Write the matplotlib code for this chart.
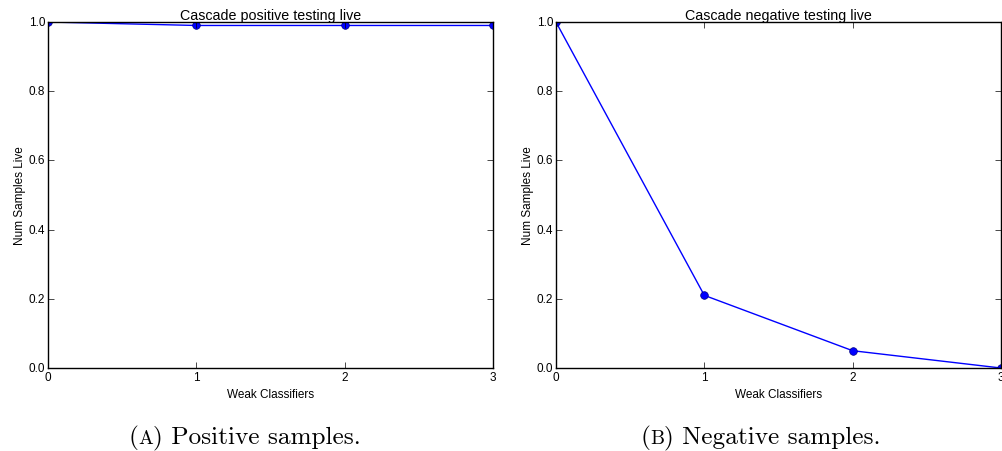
import numpy as np
import matplotlib.pyplot as plt

plt.style.use('classic')
plt.rcParams['font.family'] = ['Liberation Sans', 'DejaVu Sans']

# values
weak_classifiers = [0, 1, 2, 3]
positive_live = [1.0, 0.99, 0.99, 0.99]
negative_live = [1.0, 0.21, 0.05, 0.0]

titles = ['Cascade positive testing live', 'Cascade negative testing live']
captions = [('A', ' Positive samples.'), ('B', ' Negative samples.')]

fig = plt.figure(figsize=(10.03, 4.52), dpi=100, facecolor='white')
ax1 = fig.add_axes([0.0479, 0.1836, 0.4436, 0.7655])
ax2 = fig.add_axes([0.5543, 0.1836, 0.4437, 0.7655])

for ax, vals, title in zip([ax1, ax2], [positive_live, negative_live], titles):
    ax.plot(weak_classifiers, vals, 'b-o', markersize=5.5, markeredgecolor='navy')
    ax.set_xlim(0, 3)
    ax.set_ylim(0, 1)
    ax.set_xticks([0, 1, 2, 3])
    ax.set_yticks([0.0, 0.2, 0.4, 0.6, 0.8, 1.0])
    ax.set_title(title, fontsize=10.3, pad=2)
    ax.set_xlabel('Weak Classifiers', fontsize=8.5, labelpad=4)
    ax.set_ylabel('Num Samples Live', fontsize=8.5, labelpad=2)
    ax.tick_params(labelsize=8.5, pad=2)
    ax.set_facecolor('white')

# subfigure captions, serif with small-caps letter
cap_size = 18.2
base_y = 0.018
for cx, (letter, rest) in zip([0.246, 0.760], captions):
    t = fig.text(cx, base_y, '(' + letter + ')' + rest, family='cmr10', fontsize=cap_size,
                 ha='center', va='baseline', alpha=0)
    fig.canvas.draw()
    bb = t.get_window_extent()
    x0 = bb.x0 / fig.bbox.width
    a = fig.text(x0, base_y, '(', family='cmr10', fontsize=cap_size, va='baseline')
    fig.canvas.draw()
    x = a.get_window_extent().x1 / fig.bbox.width
    b = fig.text(x, base_y, letter, family='cmr10', fontsize=cap_size * 0.78, va='baseline')
    fig.canvas.draw()
    x = b.get_window_extent().x1 / fig.bbox.width
    fig.text(x, base_y, ')' + rest, family='cmr10', fontsize=cap_size, va='baseline')

fig.savefig('out.png', dpi=100, facecolor='white')
